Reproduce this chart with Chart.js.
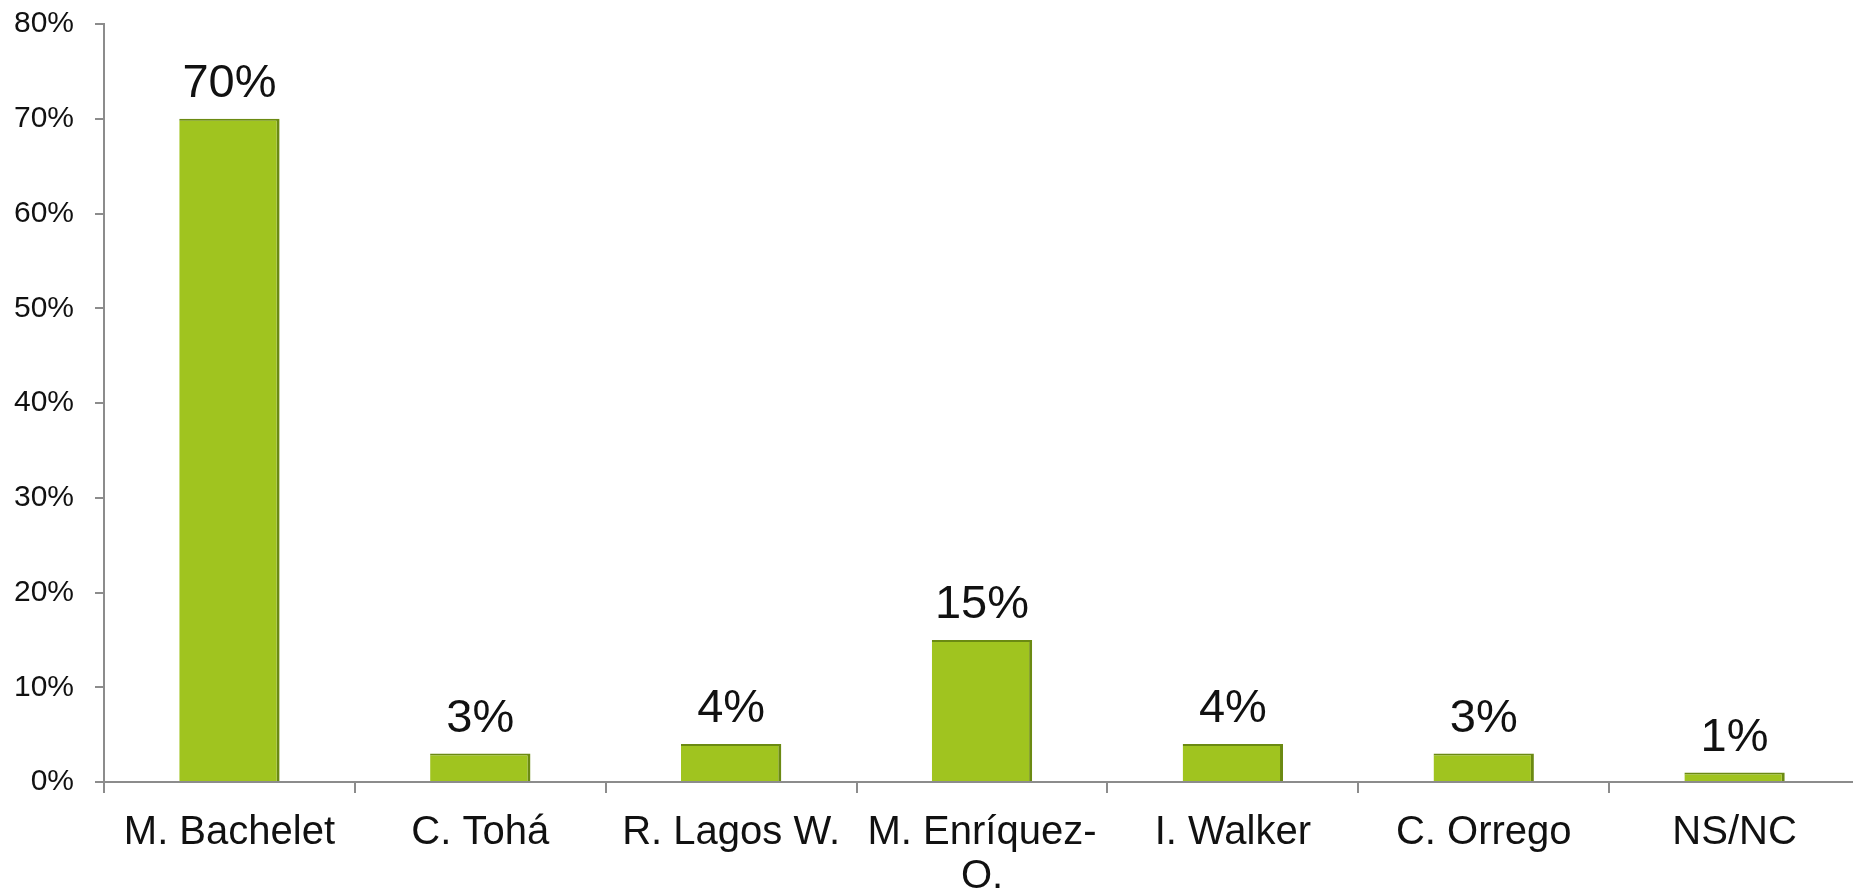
<!DOCTYPE html>
<html>
<head>
<meta charset="utf-8">
<script src="https://cdn.jsdelivr.net/npm/chart.js@4/dist/chart.umd.min.js"></script>
<style>
  html, body { margin: 0; padding: 0; background: #fff; overflow: hidden; }
  #wrap { width: 1860px; height: 890px; }
</style>
</head>
<body>
<div id="wrap"><canvas id="c" width="1860" height="890"></canvas></div>
<script>
const categories = ['M. Bachelet', 'C. Tohá', 'R. Lagos W.', ['M. Enríquez-', 'O.'], 'I. Walker', 'C. Orrego', 'NS/NC'];
const values = [70, 3, 4, 15, 4, 3, 1];
const yTicks = [0, 10, 20, 30, 40, 50, 60, 70, 80];

const FONT = "'Liberation Sans', Arial, sans-serif";

const valueLabels = {
  id: 'valueLabels',
  afterDatasetsDraw(chart) {
    const ctx = chart.ctx;
    const meta = chart.getDatasetMeta(0);
    ctx.save();
    ctx.font = '47px ' + FONT;
    ctx.fillStyle = '#111';
    ctx.textAlign = 'center';
    ctx.textBaseline = 'alphabetic';
    meta.data.forEach((bar, i) => {
      ctx.fillText(values[i] + '%', bar.x, bar.y - 22);
    });
    ctx.restore();
  }
};

new Chart(document.getElementById('c'), {
  type: 'bar',
  data: {
    labels: categories,
    datasets: [{
      data: values,
      backgroundColor: '#a0c41f',
      borderColor: '#6b8a12',
      borderWidth: { top: 2, right: 3, left: 0, bottom: 0 },
      borderSkipped: false,
      categoryPercentage: 0.4,
      barPercentage: 1.0
    }]
  },
  options: {
    responsive: false,
    animation: false,
    layout: { padding: { top: 24, right: 0, left: 0, bottom: 0 } },
    plugins: { legend: { display: false }, tooltip: { enabled: false } },
    scales: {
      x: {
        afterFit(scale) { scale.height = 108; },
        grid: { offset: true, drawOnChartArea: false, drawTicks: true, tickLength: 11, color: '#8c8c8c', lineWidth: 2 },
        border: { color: '#8c8c8c', width: 2 },
        ticks: { color: '#111', font: { family: FONT, size: 40, lineHeight: 1.1 }, padding: 18, maxRotation: 0, autoSkip: false }
      },
      y: {
        min: 0, max: 80,
        afterFit(scale) { scale.width = 104; scale.paddingTop = 0; scale.paddingBottom = 0; },
        afterBuildTicks(scale) { scale.ticks = yTicks.map(v => ({ value: v })); },
        grid: { drawOnChartArea: false, drawTicks: true, tickLength: 9, color: '#8c8c8c', lineWidth: 2 },
        border: { color: '#8c8c8c', width: 2 },
        ticks: { color: '#111', font: { family: FONT, size: 30 }, padding: 21, callback: v => v + '%' }
      }
    }
  },
  plugins: [valueLabels]
});
</script>
</body>
</html>
